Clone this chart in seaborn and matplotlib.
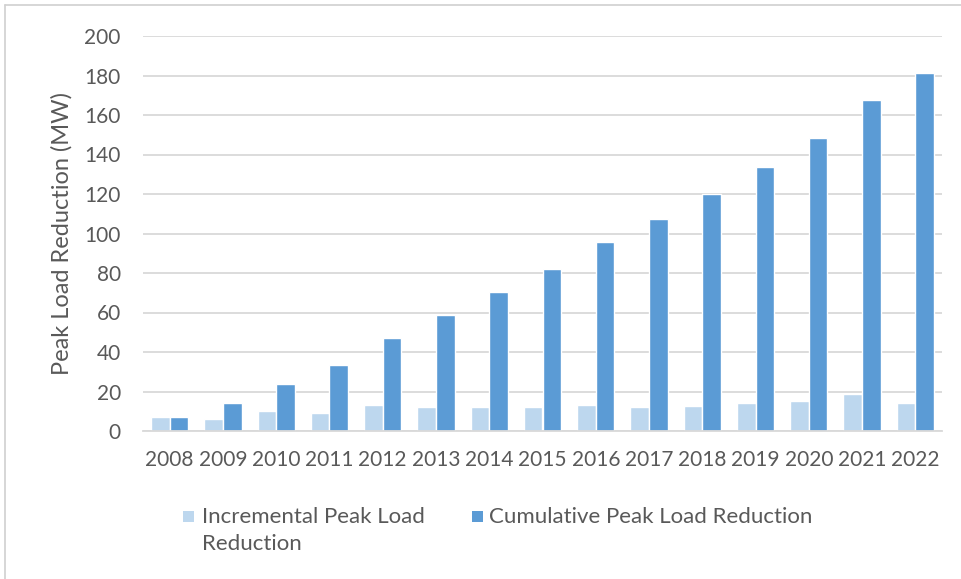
import matplotlib
matplotlib.use("Agg")
import matplotlib.pyplot as plt
import matplotlib.lines as mlines
import matplotlib.patches as mpatches
import seaborn as sns
import pandas as pd

years = ["2008", "2009", "2010", "2011", "2012", "2013", "2014", "2015",
         "2016", "2017", "2018", "2019", "2020", "2021", "2022"]
incremental = [7.2, 6.1, 10.1, 9.3, 13.3, 12.0, 12.0, 12.0,
               13.3, 12.0, 12.6, 14.0, 15.2, 18.6, 14.0]
cumulative = [7.2, 14.0, 23.8, 33.5, 47.0, 58.5, 70.5, 82.0,
              95.5, 107.5, 120.0, 133.5, 148.5, 167.5, 181.5]
series_names = ["Incremental Peak Load\nReduction", "Cumulative Peak Load Reduction"]
series_colors = ["#BDD7EE", "#5B9BD5"]
y_ticks = [0, 20, 40, 60, 80, 100, 120, 140, 160, 180, 200]

df = pd.DataFrame({
    "Year": years * 2,
    "Value": incremental + cumulative,
    "Series": [series_names[0]] * len(years) + [series_names[1]] * len(years),
})

sns.set_theme(style="white")
plt.rcParams["font.family"] = ["Lato", "DejaVu Sans"]
text_color = "#595959"

W, H = 962, 579
fig = plt.figure(figsize=(W / 100, H / 100), dpi=100)
ax = fig.add_axes([143 / W, 1 - 431 / H, (942 - 143) / W, (431 - 36) / H])

sns.barplot(data=df, x="Year", y="Value", hue="Series",
            palette=series_colors, width=0.7, gap=0,
            saturation=1, ax=ax, legend=False)

ax.set_ylim(0, 200)
ax.set_xlim(-0.5, len(years) - 0.5)
ax.set_yticks(y_ticks)
ax.yaxis.grid(True, color="#D9D9D9", linewidth=1.3)
ax.set_axisbelow(True)
for side in ["top", "right", "left"]:
    ax.spines[side].set_visible(False)
ax.spines["bottom"].set_color("#D9D9D9")
ax.spines["bottom"].set_linewidth(1.3)
ax.tick_params(axis="both", length=0, labelsize=15, colors=text_color)
ax.tick_params(axis="x", pad=14)
ax.tick_params(axis="y", pad=16)
ax.set_xlabel("")
ax.set_ylabel("Peak Load Reduction (MW)", fontsize=17, color=text_color)
ax.yaxis.set_label_coords((73 - 143) / (942 - 143), 0.5)


def fx(px):
    return px / W


def fy(py):
    return 1 - py / H


# legend below the plot: colour squares with their series names
legend_items = [
    (183, 202),
    (472, 489),
]
for (sq_x, txt_x), name, color in zip(legend_items, series_names, series_colors):
    fig.add_artist(mpatches.Rectangle((fx(sq_x), fy(522)), 11 / W, 11 / H,
                                      facecolor=color, edgecolor="none",
                                      transform=fig.transFigure))
    fig.text(fx(txt_x), fy(507), name, fontsize=16, color=text_color,
             ha="left", va="top", linespacing=1.45)

# thin frame along the top and left edges
fig.add_artist(mlines.Line2D([fx(5), 1], [fy(5), fy(5)],
                             color="#D0D0D0", linewidth=1.2, transform=fig.transFigure))
fig.add_artist(mlines.Line2D([fx(5), fx(5)], [0, fy(5)],
                             color="#D0D0D0", linewidth=1.2, transform=fig.transFigure))

fig.savefig("out.png", dpi=100)
